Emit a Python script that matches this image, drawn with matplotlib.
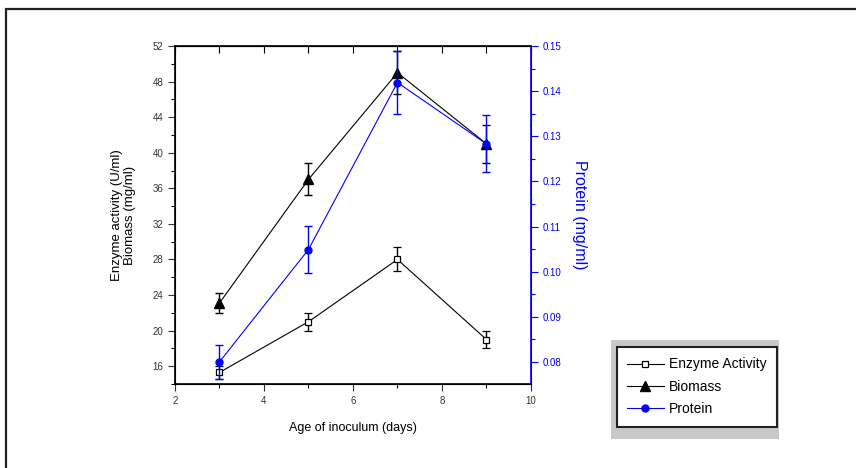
import numpy as np
import matplotlib
matplotlib.use("Agg")
import matplotlib.pyplot as plt
from matplotlib.patches import Rectangle
from matplotlib.lines import Line2D
from matplotlib.ticker import MultipleLocator, FormatStrFormatter, NullLocator

plt.rcParams['font.family'] = ['Liberation Sans', 'DejaVu Sans']

# data
age = [3, 5, 7, 9]
enzyme = [15.3, 21.0, 28.0, 19.0]
enzyme_err = [0.7, 1.0, 1.35, 1.0]
biomass = [23.1, 37.0, 49.0, 41.0]
biomass_err = [1.1, 1.8, 2.4, 2.1]
protein = [0.080, 0.1049, 0.1419, 0.1283]
protein_err = [0.0038, 0.0052, 0.0070, 0.0063]

blue = '#0000ff'

fig = plt.figure(figsize=(8.56, 4.68), dpi=100)
ax = fig.add_axes([0.2044, 0.1795, 0.4159, 0.7222])
ax2 = ax.twinx()

# outer frame of the figure
fig.patches.append(Rectangle((0.0075, -0.05), 1.1, 1.0318, transform=fig.transFigure,
                             fill=False, edgecolor='#222222', lw=1.6, clip_on=False))

ax.errorbar(age, enzyme, yerr=enzyme_err, color='black', lw=0.8, marker='s', ms=5,
            mfc='white', mec='black', mew=0.9, capsize=3, elinewidth=1, capthick=1)
ax.errorbar(age, biomass, yerr=biomass_err, color='black', lw=0.8, marker='^', ms=6.5,
            capsize=3, elinewidth=1, capthick=1)
ax2.errorbar(age, protein, yerr=protein_err, color=blue, lw=0.8, marker='o', ms=5,
             capsize=3, elinewidth=1, capthick=1)

ax.set_xlim(2, 10)
ax.set_ylim(14, 52)
ax2.set_ylim(0.0751, 0.15)

ax.xaxis.set_major_locator(MultipleLocator(2))
ax.xaxis.set_minor_locator(MultipleLocator(1))
ax.set_yticks(np.arange(16, 53, 4))
ax.yaxis.set_minor_locator(MultipleLocator(2))
ax2.yaxis.set_major_locator(MultipleLocator(0.01))
ax2.yaxis.set_minor_locator(MultipleLocator(0.005))
ax2.yaxis.set_major_formatter(FormatStrFormatter('%.2f'))

ax.tick_params(which='major', length=5, width=0.8, labelsize=7, colors='#333333', direction='out')
ax.tick_params(which='minor', length=3, width=0.8, direction='out')
ax2.tick_params(which='major', length=5, width=0.8, labelsize=7, colors=blue, direction='out')
ax2.tick_params(which='minor', length=3, width=0.8, colors=blue, direction='out')

top = ax.secondary_xaxis('top')
top.set_xticks(range(2, 11))
top.tick_params(direction='in', length=5, width=0.8, labeltop=False)
top.xaxis.set_minor_locator(NullLocator())

ax2.spines['right'].set_color(blue)
ax2.spines['right'].set_linewidth(1.2)
for s in ['left', 'bottom', 'top']:
    ax.spines[s].set_linewidth(1.2)

ax.set_xlabel('Age of inoculum (days)', fontsize=9, labelpad=12)
ax.set_ylabel('Enzyme activity (U/ml)\nBiomass (mg/ml)', fontsize=9.5, labelpad=12, linespacing=1.05)
ax2.set_ylabel('Protein (mg/ml)', fontsize=11.5, color=blue, rotation=270, labelpad=18)

# legend with grey shadow box
fig.patches.append(Rectangle((0.7138, 0.0620), 0.1963, 0.2115, transform=fig.transFigure,
                             facecolor='#c8c8c8', edgecolor='none', zorder=0))
handles = [
    Line2D([], [], color='black', lw=0.8, marker='s', ms=5, mfc='white', mec='black', mew=0.9),
    Line2D([], [], color='black', lw=0.8, marker='^', ms=6.5),
    Line2D([], [], color=blue, lw=0.8, marker='o', ms=5),
]
leg = fig.legend(handles=handles, labels=['Enzyme Activity', 'Biomass', 'Protein'],
                 loc='upper left', bbox_to_anchor=(0.7208, 1 - 347 / 468),
                 fontsize=10, frameon=True, fancybox=False, edgecolor='#222222',
                 facecolor='white', framealpha=1,
                 handlelength=2.6, labelspacing=0.6, borderaxespad=0, borderpad=0.75,
                 handletextpad=0.4)
leg.get_frame().set_linewidth(1.5)
leg.set_zorder(5)

fig.savefig('out.png', dpi=100)
